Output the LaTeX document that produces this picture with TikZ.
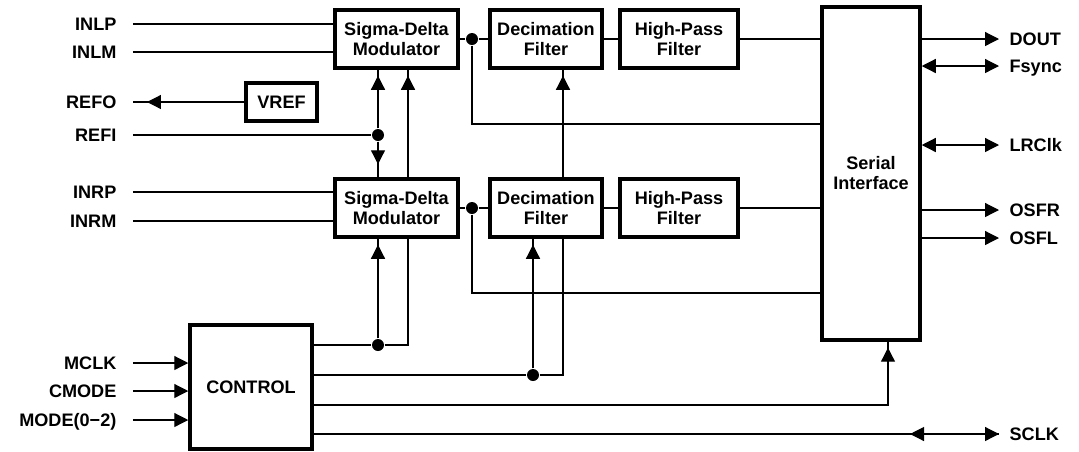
\documentclass[tikz,border=0pt]{standalone}
\usepackage{fontspec}
\setmainfont{Liberation Sans}
\usetikzlibrary{arrows.meta}

\begin{document}
\begin{tikzpicture}[x=0.02cm, y=-0.02cm, line width=0.7pt,
        font=\fontsize{10.3}{11.4}\selectfont\bfseries,
        blk/.style={draw, line width=2pt, align=center, inner sep=0pt},
        lbl/.style={anchor=east, inner sep=0pt, text height=7.4pt, text depth=0pt},
        rlbl/.style={anchor=west, inner sep=0pt, text height=7.4pt, text depth=0pt},
        atip/.style={-{Triangle[length=0.28cm, width=0.28cm]}},
        dtip/.style={{Triangle[length=0.28cm, width=0.28cm]}-{Triangle[length=0.28cm, width=0.28cm]}},
        gaptip/.style={postaction={draw, atip, shorten >=#1}},
        gaptip/.default=0.12cm,
        jdot/.style={circle, fill, inner sep=0pt, minimum size=0.24cm}]
        \useasboundingbox (0,0) rectangle (1079,451);
        % blocks
        \node[blk, minimum width=2.46cm, minimum height=1.16cm] (sdmL) at (396.5,39)  {Sigma-Delta\\Modulator};
        \node[blk, minimum width=2.46cm, minimum height=1.16cm] (sdmR) at (396.5,208) {Sigma-Delta\\Modulator};
        \node[blk, minimum width=2.24cm, minimum height=1.16cm] (decL) at (546,39)    {Decimation\\Filter};
        \node[blk, minimum width=2.24cm, minimum height=1.16cm] (decR) at (546,208)   {Decimation\\Filter};
        \node[blk, minimum width=2.36cm, minimum height=1.16cm] (hpfL) at (679,39)    {High-Pass\\Filter};
        \node[blk, minimum width=2.36cm, minimum height=1.16cm] (hpfR) at (679,208)   {High-Pass\\Filter};
        \node[blk, minimum width=1.42cm, minimum height=0.76cm] (vref) at (281.5,102) {VREF};
        \node[blk, minimum width=1.96cm, minimum height=6.66cm] (serial) at (871,173.5) {Serial\\Interface};
        \node[blk, minimum width=2.44cm, minimum height=2.48cm] (ctrl) at (251,387)   {CONTROL};
        % pin labels
        \node[lbl] (inlp)  at (117,24)  {INLP};
        \node[lbl] (inlm)  at (117,52)  {INLM};
        \node[lbl] (refo)  at (117,102) {REFO};
        \node[lbl] (refi)  at (117,135) {REFI};
        \node[lbl] (inrp)  at (117,192) {INRP};
        \node[lbl] (inrm)  at (117,221) {INRM};
        \node[lbl] (mclk)  at (117,363) {MCLK};
        \node[lbl] (cmode) at (117,391) {CMODE};
        \node[lbl] (mode)  at (117,420) {MODE(0−2)};
        \node[rlbl] (dout)  at (1009,39)  {DOUT};
        \node[rlbl] (fsync) at (1009,66)  {Fsync};
        \node[rlbl] (lrclk) at (1009,145) {LRClk};
        \node[rlbl] (osfr)  at (1009,210) {OSFR};
        \node[rlbl] (osfl)  at (1009,238) {OSFL};
        \node[rlbl] (sclk)  at (1009,434) {SCLK};
        % junctions and corners
        \node[jdot] (dRefi) at (378,135) {};
        \node[jdot] (dL)    at (472,39)  {};
        \node[jdot] (dR)    at (472,208) {};
        \node[jdot] (dC1)   at (378,345) {};
        \node[jdot] (dC2)   at (533,375) {};
        \coordinate (c1) at (408,345);
        \coordinate (c2) at (563,375);
        \coordinate (c3) at (888,405);
        \coordinate (tL) at (472,124);
        \coordinate (tR) at (472,293);
        % analog inputs
        \foreach \n/\b in {inlp/sdmL, inlm/sdmL, inrp/sdmR, inrm/sdmR}
            \draw ([xshift=0.32cm]\n.east) -- (\n -| \b.west);
        \foreach \n in {mclk, cmode, mode}
            \draw[atip] ([xshift=0.32cm]\n.east) -- (\n -| ctrl.west);
        % reference
        \draw[gaptip=0.28cm] (vref.west) -- ([xshift=0.32cm]refo.east);
        \draw ([xshift=0.32cm]refi.east) -- (dRefi);
        \draw[gaptip] (dRefi) -- (dRefi |- sdmL.south);
        \draw[gaptip=0.26cm] (dRefi) -- (dRefi |- sdmR.north);
        \draw[gaptip] (sdmR.north -| c1) -- (sdmL.south -| c1);
        % data path
        \draw (sdmL.east) -- (dL) -- (decL.west);
        \draw (sdmR.east) -- (dR) -- (decR.west);
        \draw (dL) -- (tL) -- (tL -| serial.west);
        \draw (dR) -- (tR) -- (tR -| serial.west);
        \draw (decL) -- (hpfL);
        \draw (decR) -- (hpfR);
        \draw (hpfL) -- (hpfL -| serial.west);
        \draw (hpfR) -- (hpfR -| serial.west);
        \draw[gaptip] (decR.north -| c2) -- (decL.south -| c2);
        % control lines
        \draw (ctrl.east |- dC1) -- (dC1) -- (c1) -- (c1 |- sdmR.south);
        \draw[gaptip] (dC1) -- (dC1 |- sdmR.south);
        \draw (ctrl.east |- dC2) -- (dC2) -- (c2) -- (c2 |- decR.south);
        \draw[gaptip] (dC2) -- (dC2 |- decR.south);
        \draw[gaptip] (ctrl.east |- c3) -- (c3) -- (c3 |- serial.south);
        \draw (ctrl.east |- sclk) -- ([xshift=-0.2cm]sclk.west);
        \draw[dtip] ([xshift=-1.98cm]sclk.west) -- ([xshift=-0.2cm]sclk.west);
        % serial outputs
        \draw[atip] (serial.east |- dout)  -- ([xshift=-0.2cm]dout.west);
        \draw[dtip] (serial.east |- fsync) -- ([xshift=-0.2cm]fsync.west);
        \draw[dtip] (serial.east |- lrclk) -- ([xshift=-0.2cm]lrclk.west);
        \draw[atip] (serial.east |- osfr)  -- ([xshift=-0.2cm]osfr.west);
        \draw[atip] (serial.east |- osfl)  -- ([xshift=-0.2cm]osfl.west);
    \end{tikzpicture}
\end{document}
